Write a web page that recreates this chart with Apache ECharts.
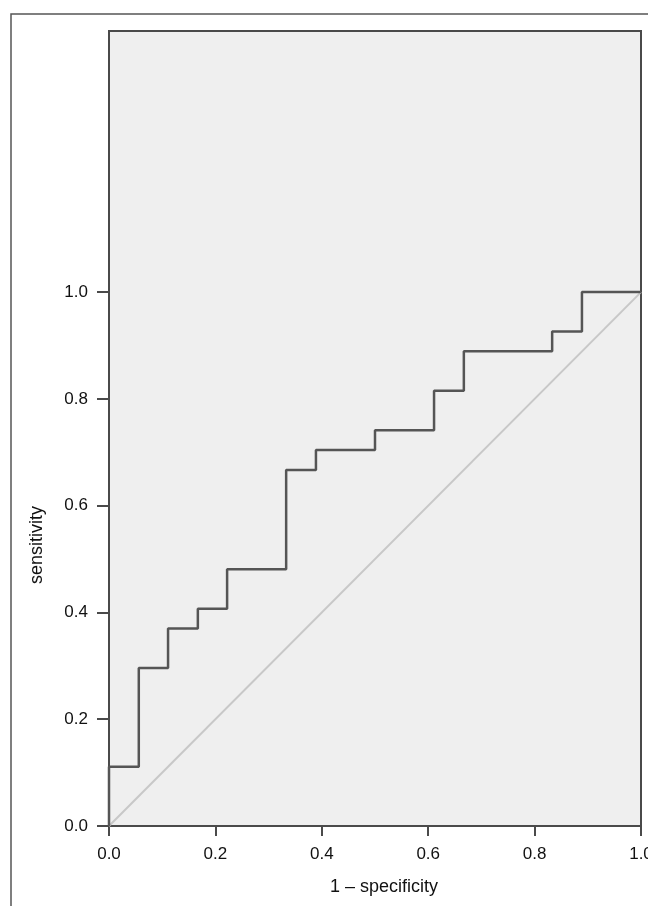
<!DOCTYPE html>
<html>
<head>
<meta charset="utf-8">
<script src="https://cdn.jsdelivr.net/npm/echarts@6/dist/echarts.min.js"></script>
<style>
  html, body { margin: 0; padding: 0; background: #fff; }
  #chart { width: 648px; height: 906px; }
</style>
</head>
<body>
<div id="chart"></div>
<script>
// ROC curve corners (1 - specificity, sensitivity)
const fpr = [0, 0, 0.056, 0.111, 0.167, 0.222, 0.333, 0.389, 0.5, 0.611, 0.667, 0.833, 0.889, 1.0];
const tpr = [0, 0.111, 0.296, 0.370, 0.407, 0.481, 0.667, 0.704, 0.741, 0.815, 0.889, 0.926, 1.0, 1.0];
// reference diagonal
const refX = [0, 1];
const refY = [0, 1];
const tickVals = [0, 0.2, 0.4, 0.6, 0.8, 1.0];

const font = 'Liberation Sans, Arial, sans-serif';
const chart = echarts.init(document.getElementById('chart'));

const option = {
    backgroundColor: '#fff',
    animation: false,
    grid: {
        left: 109, right: 7, top: 31, bottom: 80,
        outerBoundsMode: 'none',
        containLabel: false,
        show: true,
        backgroundColor: '#efefef',
        borderColor: '#4a4a4a',
        borderWidth: 2
    },
    xAxis: {
        type: 'value',
        min: 0, max: 1, interval: 0.2,
        axisLine: { show: true, lineStyle: { color: '#4a4a4a', width: 2 } },
        axisTick: { show: true, length: 10, lineStyle: { color: '#4a4a4a', width: 2 } },
        axisLabel: {
            margin: 20, color: '#111', fontSize: 17, fontFamily: font,
            hideOverlap: false,
            formatter: v => v.toFixed(1)
        },
        splitLine: { show: false }
    },
    yAxis: {
        type: 'value',
        min: 0, max: 1.489,
        axisLine: { show: true, lineStyle: { color: '#4a4a4a', width: 2 } },
        axisTick: { show: true, length: 12, customValues: tickVals, lineStyle: { color: '#4a4a4a', width: 2 } },
        axisLabel: {
            margin: 21, color: '#111', fontSize: 17, fontFamily: font,
            customValues: tickVals,
            formatter: v => v.toFixed(1)
        },
        splitLine: { show: false }
    },
    graphic: [
        {
            type: 'rect', z: -1, silent: true,
            shape: { x: 11, y: 14, width: 1000, height: 1000 },
            style: { fill: null, stroke: '#555', lineWidth: 1.5 }
        },
        {
            type: 'text', x: 37, y: 545, rotation: Math.PI / 2,
            style: { text: 'sensitivity', fill: '#111', fontSize: 18, fontFamily: font, align: 'center', verticalAlign: 'middle' }
        },
        {
            type: 'text', x: 384, y: 887,
            style: { text: '1 \u2013 specificity', fill: '#111', fontSize: 18, fontFamily: font, align: 'center', verticalAlign: 'middle' }
        }
    ],
    series: [
        {
            type: 'line',
            data: refX.map((x, i) => [x, refY[i]]),
            symbol: 'none',
            lineStyle: { color: '#c8c8c8', width: 2 },
            z: 2
        },
        {
            type: 'line',
            step: 'end',
            data: fpr.map((x, i) => [x, tpr[i]]),
            symbol: 'none',
            lineStyle: { color: '#555', width: 2.5 },
            z: 3
        }
    ]
};
chart.setOption(option);
</script>
</body>
</html>
